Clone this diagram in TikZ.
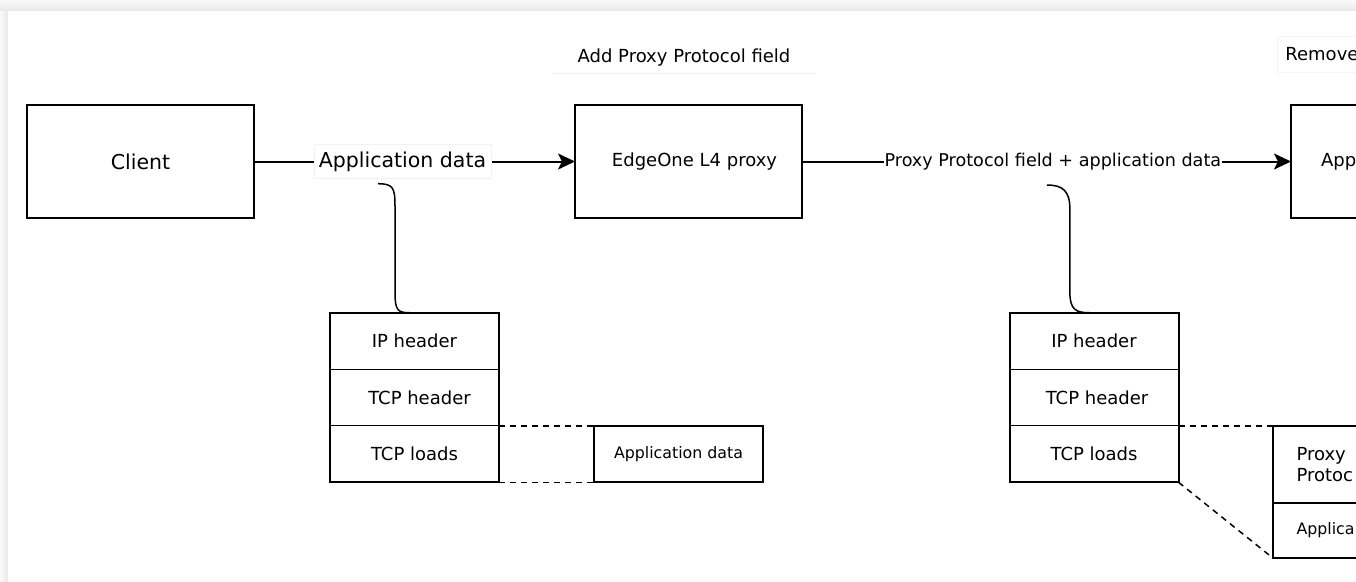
\documentclass[tikz,border=0pt]{standalone}
\usepackage{fontspec}
\setmainfont{DejaVu Sans}
\usetikzlibrary{arrows.meta,positioning}

\begin{document}
\begin{tikzpicture}[x=1pt, y=-1pt,
  box/.style={rectangle, draw, line width=2pt, outer sep=0pt,
              minimum width=227pt, minimum height=113pt,
              font=\fontsize{18}{21}\selectfont},
  cell/.style={rectangle, draw, line width=1.3pt, outer sep=0pt, inner sep=0pt,
               minimum width=169pt, minimum height=56.5pt,
               font=\fontsize{18}{21}\selectfont},
  frame/.style={line width=2pt},
  arr/.style={-{Stealth[length=17pt, width=16pt, inset=4pt]}, line width=2pt},
  lbl/.style={fill=white, draw=gray!10, line width=0.6pt, inner xsep=5pt, inner ysep=7pt,
              font=\fontsize{20.5}{24}\selectfont},
  curve/.style={line width=1.5pt},
  link/.style={dash pattern=on 6pt off 5pt, line width=1.5pt}
]
  \useasboundingbox (0,0) rectangle (1356,581);
  \clip (0,0) rectangle (1356,581);
  % card shadow
  \fill[top color=gray!4, bottom color=gray!18] (0,0) rectangle (1356,11);
  \fill[left color=gray!4, right color=gray!18] (0,11) rectangle (8,581);
  \fill[white] (8,11) rectangle (1356,581);

  % top notes
  \node[fill=white, minimum width=264pt, minimum height=30pt,
        font=\fontsize{18}{21}\selectfont] (addnote) at (684,58) {Add Proxy Protocol field};
  \draw[gray!12, line width=1pt] (addnote.south west) -- (addnote.south east);
  \node[draw=gray!8, fill=white, line width=0.8pt, anchor=west, inner xsep=8pt,
        minimum height=36pt, font=\fontsize{18}{21}\selectfont]
        (rmnote) at (1277,54) {Remove};

  % main chain
  \node[box, font=\fontsize{20.5}{24}\selectfont] (client) at (140.5,161.5) {Client};
  \node[box] (edge) at (688.5,161.5) {\hspace*{12pt}EdgeOne L4 proxy};
  \node[box, anchor=north west, text width=167pt, inner xsep=30pt, align=left]
        (app) at (1291,105) {App};
  \draw[arr] (client) -- node[lbl, pos=0.4626] (applbl) {Application data} (edge);
  \draw[arr] (edge) -- node[fill=white, inner xsep=1pt, inner ysep=6pt, pos=0.513,
        font=\fontsize{17.6}{21}\selectfont] (pplbl) {Proxy Protocol field + application data} (app);

  % packet before the proxy
  \node[cell] (ip1) at (414.5,341) {IP header};
  \node[cell, below=0pt of ip1] (tcph1) {\hspace*{10pt}TCP header};
  \node[cell, below=0pt of tcph1] (load1) {TCP loads};
  \draw[frame] (ip1.north west) rectangle (load1.south east);
  \node[cell, line width=2pt, right=95pt of load1, font=\fontsize{15.8}{19}\selectfont]
        (appdata1) {Application data};
  \draw[link] (load1.north east) -- (appdata1.north west);
  \draw[link] (load1.south east) -- (appdata1.south west);
  \draw[curve] ([xshift=-24.5pt, yshift=-5pt]applbl.south) .. controls +(15,0) and +(0,-18) .. ++(17,22)
        -- ++(0,87) .. controls +(0,18) and +(-12,0) .. ([xshift=-4.5pt]ip1.north);

  % packet after the proxy
  \node[cell] (ip2) at (1094,341) {IP header};
  \node[cell, below=0pt of ip2] (tcph2) {\hspace*{6pt}TCP header};
  \node[cell, below=0pt of tcph2] (load2) {TCP loads};
  \draw[frame] (ip2.north west) rectangle (load2.south east);
  \node[cell, line width=2pt, anchor=north west, minimum height=77pt, text width=121pt,
        inner xsep=24pt, align=left] (ppf) at ([xshift=94pt]load2.north east)
        {Proxy\\Protoc};
  \node[cell, line width=2pt, below=0pt of ppf, minimum height=55pt, text width=121pt,
        inner xsep=24pt, align=left, font=\fontsize{15.8}{19}\selectfont]
        (appdata2) {Applica};
  \draw[link] (load2.north east) -- (ppf.north west);
  \draw[link] (load2.south east) -- (appdata2.south west);
  \draw[curve] ([xshift=-6pt, yshift=-8pt]pplbl.south) .. controls +(16,0) and +(0,-18) .. ++(23,24)
        -- ++(0,83) .. controls +(0,18) and +(-14,0) .. ([xshift=-4pt]ip2.north);
\end{tikzpicture}
\end{document}
